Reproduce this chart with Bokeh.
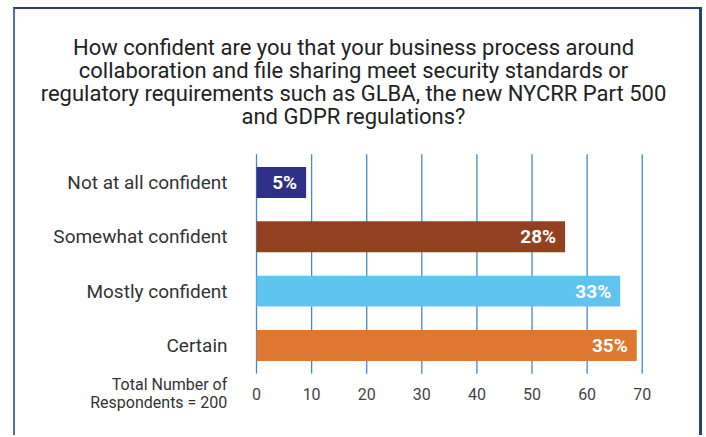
from bokeh.plotting import figure
from bokeh.models import Range1d, ColumnDataSource, FixedTicker
from bokeh.core.properties import value
from bokeh.embed import file_html
from bokeh.resources import INLINE

categories = ["Not at all confident", "Somewhat confident", "Mostly confident", "Certain"]
respondents = [9, 56, 66, 69]
percent_labels = ["5%", "28%", "33%", "35%"]
colors = ["#2e3087", "#924020", "#60c4f0", "#de7830"]
x_ticks = [0, 10, 20, 30, 40, 50, 60, 70]
title_text = ("How confident are you that your business process around\n"
              "collaboration and file sharing meet security standards or\n"
              "regulatory requirements such as GLBA, the new NYCRR Part 500\n"
              "and GDPR regulations?")
footnote = "Total Number of\nRespondents = 200"

positions = list(range(len(categories)))  # category slots, top to bottom
source = ColumnDataSource(dict(pos=positions, cat=categories, n=respondents,
                               label=percent_labels, color=colors))

# layout constants (screen placement only)
grid_top = -0.52
grid_bottom = len(categories) - 0.48

p = figure(width=689, height=428,
           x_range=Range1d(-43.74, 81.30),
           y_range=Range1d(4.696, -3.186),
           output_backend="svg", toolbar_location=None,
           min_border_left=0, min_border_right=0, min_border_top=0, min_border_bottom=0)

p.styles = {"border-left": "2px solid #5b6f9e", "border-top": "2px solid #233f7c",
            "border-right": "3px solid #233f7c", "margin-left": "13px", "margin-top": "7px"}

p.outline_line_color = None
p.xgrid.visible = False
p.ygrid.visible = False

# vertical grid lines, only across the bar area
p.segment(x0=x_ticks, x1=x_ticks, y0=[grid_top] * len(x_ticks), y1=[grid_bottom] * len(x_ticks),
          line_color="#4a88c4", line_width=1.3)

p.hbar(y="pos", left=0, right="n", height=0.57, fill_color="color", line_color=None, source=source)
p.text(x="n", y="pos", text="label", x_offset=-9, text_align="right", text_baseline="middle",
       text_color="white", text_font=value("Roboto"), text_font_style="bold", text_font_size="19px",
       source=source)

# x axis drawn at the bottom of the grid
p.xaxis.fixed_location = grid_bottom
p.xaxis.ticker = FixedTicker(ticks=x_ticks)
p.xaxis.axis_line_color = None
p.xaxis.major_tick_line_color = None
p.xaxis.minor_tick_line_color = None
p.xaxis.major_tick_out = 0
p.xaxis.major_tick_in = 0
p.xaxis.major_label_standoff = 14
p.xaxis.major_label_text_font = "Roboto"
p.xaxis.major_label_text_font_size = "16px"
p.xaxis.major_label_text_color = "#444444"

# category axis drawn at x = 0
p.yaxis.fixed_location = 0
p.yaxis.ticker = FixedTicker(ticks=positions)
p.yaxis.major_label_overrides = {i: c for i, c in zip(positions, categories)}
p.yaxis.axis_line_color = None
p.yaxis.major_tick_line_color = None
p.yaxis.minor_tick_line_color = None
p.yaxis.major_tick_out = 0
p.yaxis.major_tick_in = 0
p.yaxis.major_label_standoff = 29
p.yaxis.major_label_text_font = "Roboto"
p.yaxis.major_label_text_font_size = "19px"
p.yaxis.major_label_text_color = "#333333"

# title and footnote
p.text(x=[17.6], y=[-1.851], text=[title_text], text_align="center", text_baseline="middle",
       text_font=value("Roboto"), text_font_size="22px", text_color="#222222", text_line_height=0.93)
p.text(x=[-5.3], y=[3.877], text=[footnote], text_align="right", text_baseline="middle",
       text_font=value("Roboto"), text_font_size="16px", text_color="#333333", text_line_height=0.95)

open("out.html", "w").write(file_html(p, INLINE))
